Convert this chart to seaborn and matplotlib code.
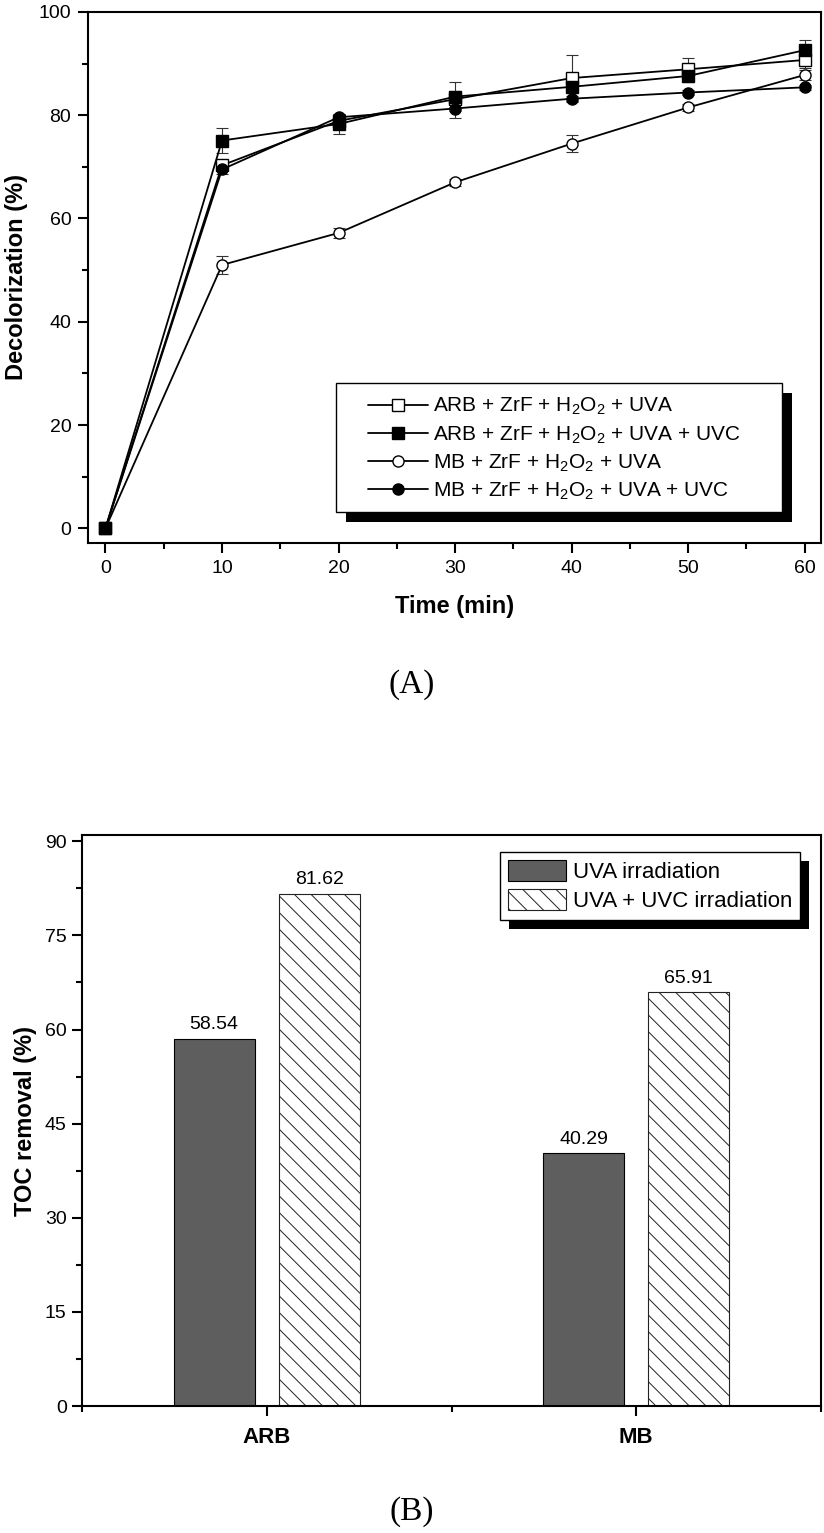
import numpy as np
import pandas as pd
import matplotlib
matplotlib.use("Agg")
import matplotlib.pyplot as plt
import seaborn as sns
from matplotlib.patches import Rectangle, Patch
from matplotlib.transforms import IdentityTransform, ScaledTranslation
from matplotlib.ticker import MultipleLocator, FixedLocator

# ---------------- data (A) ----------------
time_min = [0, 10, 20, 30, 40, 50, 60]
arb_uva = [0, 70.3, 78.9, 83.1, 87.2, 88.9, 90.7]
arb_uva_err = [0, 1.0, 0.8, 1.5, 4.4, 2.2, 1.6]
arb_uvauvc = [0, 75.1, 78.3, 83.6, 85.5, 87.6, 92.6]
arb_uvauvc_err = [0, 2.4, 2.0, 2.8, 1.0, 1.1, 2.0]
mb_uva = [0, 51.0, 57.2, 67.0, 74.5, 81.5, 87.8]
mb_uva_err = [0, 1.7, 0.9, 0.7, 1.6, 0.6, 1.0]
mb_uvauvc = [0, 69.5, 79.6, 81.3, 83.2, 84.4, 85.4]
mb_uvauvc_err = [0, 0.8, 0.7, 1.8, 0.6, 0.5, 0.5]
series_labels = [r"ARB + ZrF + H$_2$O$_2$ + UVA",
                 r"ARB + ZrF + H$_2$O$_2$ + UVA + UVC",
                 r"MB + ZrF + H$_2$O$_2$ + UVA",
                 r"MB + ZrF + H$_2$O$_2$ + UVA + UVC"]

# ---------------- data (B) ----------------
toc_samples = ["ARB", "MB"]
toc_conditions = ["UVA irradiation", "UVA + UVC irradiation"]
toc_uva = [58.54, 40.29]
toc_uvauvc = [81.62, 65.91]

sns.set_style("ticks")
plt.rcParams["font.family"] = ["Liberation Sans", "DejaVu Sans"]
plt.rcParams["mathtext.fontset"] = "custom"
plt.rcParams["mathtext.rm"] = "Liberation Sans"
plt.rcParams["mathtext.default"] = "regular"
for k in ["text.color", "axes.labelcolor", "xtick.color", "ytick.color",
          "axes.edgecolor"]:
    plt.rcParams[k] = "black"
plt.rcParams["hatch.linewidth"] = 0.7
NARROW = ["Liberation Sans Narrow", "Liberation Sans", "DejaVu Sans"]

fig = plt.figure(figsize=(8.24, 15.33), dpi=100)
ax1 = fig.add_axes([0.1068, 0.6458, 0.8896, 0.3464])
ax2 = fig.add_axes([0.0995, 0.0828, 0.8969, 0.3725])

# ---------------- panel A ----------------
series = [
    (arb_uva, arb_uva_err, "s", "white"),
    (arb_uvauvc, arb_uvauvc_err, "s", "black"),
    (mb_uva, mb_uva_err, "o", "white"),
    (mb_uvauvc, mb_uvauvc_err, "o", "black"),
]
handles = []
for (vals, errs, mk, fc), lab in zip(series, series_labels):
    ax1.errorbar(time_min, vals, yerr=errs, fmt="none", ecolor="#333333",
                 elinewidth=0.8, capsize=4, capthick=0.8, zorder=2)
    sns.lineplot(x=time_min, y=vals, ax=ax1, color="black", lw=1.3,
                 marker=mk, markersize=8, markerfacecolor=fc,
                 markeredgecolor="black", markeredgewidth=1.0, zorder=3,
                 label=lab, legend=False)
    handles.append(ax1.lines[-1])

ax1.set_xlim(-1.5, 61.4)
ax1.set_ylim(-2.85, 100)
ax1.xaxis.set_major_locator(MultipleLocator(10))
ax1.xaxis.set_minor_locator(MultipleLocator(5))
ax1.yaxis.set_major_locator(MultipleLocator(20))
ax1.yaxis.set_minor_locator(MultipleLocator(10))
ax1.tick_params(which="major", direction="out", length=7, width=1.5,
                labelsize=14, pad=5)
ax1.tick_params(which="minor", direction="out", length=4, width=1.5)
for s in ax1.spines.values():
    s.set_linewidth(1.5)
ax1.set_xlabel("Time (min)", fontsize=17, fontweight="bold", labelpad=13)
ax1.set_ylabel("Decolorization (%)", fontsize=17, fontweight="bold", labelpad=8)

# legend box (frame drawn manually, with offset shadow)
bx0, bx1, by0, by1 = 0.338, 0.947, 0.0584, 0.301
shadow_off = ScaledTranslation(10 / 100, -10 / 100, fig.dpi_scale_trans)
ax1.add_patch(Rectangle((bx0, by0), bx1 - bx0, by1 - by0,
                        transform=ax1.transAxes + shadow_off,
                        facecolor="black", edgecolor="none", zorder=5))
ax1.add_patch(Rectangle((bx0, by0), bx1 - bx0, by1 - by0,
                        transform=ax1.transAxes, facecolor="white",
                        edgecolor="black", lw=1.0, zorder=5.1))
leg1 = ax1.legend(handles=handles, labels=series_labels, loc="upper left",
                  bbox_to_anchor=(0.382, 0.2766), borderaxespad=0,
                  borderpad=0, fontsize=15, frameon=False,
                  handlelength=2.9, handletextpad=0.2, labelspacing=0.33)
leg1.set_zorder(6)

fig.text(0.5, 1 - 685 / 1533, "(A)", ha="center", va="center", fontsize=24,
         family=["Liberation Serif", "DejaVu Serif"])

# ---------------- panel B ----------------
df = pd.DataFrame({
    "sample": toc_samples * 2,
    "condition": [toc_conditions[0]] * 2 + [toc_conditions[1]] * 2,
    "toc": toc_uva + toc_uvauvc,
})
palette = {toc_conditions[0]: "#5e5e5e", toc_conditions[1]: "white"}
sns.barplot(data=df, x="sample", y="toc", hue="condition", order=toc_samples,
            hue_order=toc_conditions, palette=palette, ax=ax2, width=0.569,
            gap=0.23, edgecolor="black", linewidth=0.8, legend=False,
            saturation=1, errorbar=None)
for bar in ax2.containers[1]:
    bar.set_hatch("\\\\")
    bar.set_edgecolor("#222222")
for cont in ax2.containers:
    ax2.bar_label(cont, fmt="%.2f", padding=4, fontsize=14, family=NARROW)

ax2.set_xlim(-0.5, 1.5)
ax2.set_ylim(0, 91)
ax2.yaxis.set_major_locator(MultipleLocator(15))
ax2.yaxis.set_minor_locator(MultipleLocator(7.5))
ax2.xaxis.set_minor_locator(FixedLocator([-0.5, 0.5, 1.5]))
ax2.tick_params(which="major", direction="out", length=7, width=1.5, pad=4)
ax2.tick_params(which="minor", direction="out", length=4, width=1.5)
ax2.tick_params(axis="y", labelsize=14)
for lab in ax2.get_yticklabels():
    lab.set_family(NARROW)
for lab in ax2.get_xticklabels():
    lab.set_fontsize(16)
    lab.set_fontweight("bold")
ax2.tick_params(axis="x", pad=8)
for s in ax2.spines.values():
    s.set_linewidth(1.5)
    s.set_visible(True)
ax2.set_xlabel("")
ax2.set_ylabel("TOC removal (%)", fontsize=17, fontweight="bold", labelpad=6)

leg_handles = [Patch(facecolor="#5e5e5e", edgecolor="black", lw=0.8),
               Patch(facecolor="white", edgecolor="#222222", lw=0.8, hatch="\\\\")]
leg2 = ax2.legend(handles=leg_handles, labels=toc_conditions, loc="upper left",
                  bbox_to_anchor=(0.566, 0.970), borderaxespad=0,
                  prop={"family": NARROW, "size": 16}, frameon=True,
                  fancybox=False, framealpha=1, edgecolor="black",
                  handlelength=2.6, handleheight=1.1, handletextpad=0.3,
                  labelspacing=0.25, borderpad=0.35)
leg2.get_frame().set_linewidth(1.0)

fig.text(0.5, 1 - 1512 / 1533, "(B)", ha="center", va="center", fontsize=24,
         family=["Liberation Serif", "DejaVu Serif"])

# ---------------- legend shadow (B) ----------------
fig.canvas.draw()
bb = leg2.get_window_extent()
ax2.add_patch(Rectangle((bb.x0 + 9, bb.y0 - 9), bb.width, bb.height,
                        transform=IdentityTransform(), facecolor="black",
                        edgecolor="none", zorder=leg2.get_zorder() - 0.1,
                        clip_on=False))

fig.savefig("out.png", dpi=100)
